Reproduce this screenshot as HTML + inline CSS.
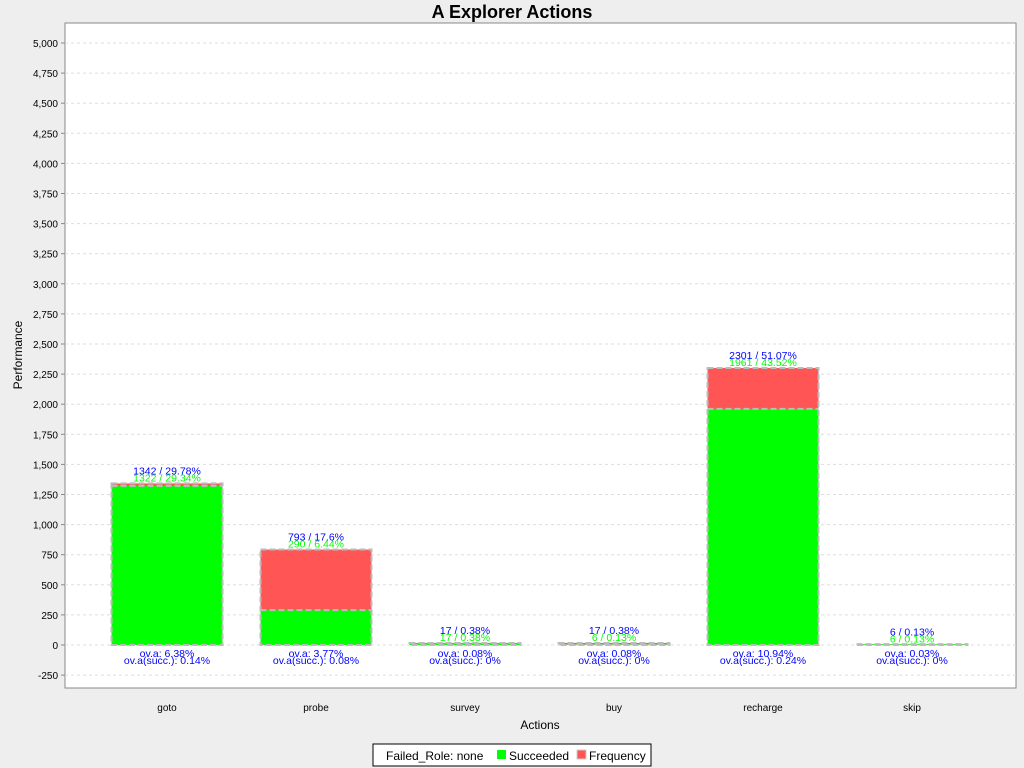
<!DOCTYPE html>
<html><head><meta charset="utf-8"><style>
body{margin:0;background:#eeeeee;font-family:"Liberation Sans",sans-serif;}
svg{display:block}
</style></head><body>
<svg id="c" width="1024" height="768" xmlns="http://www.w3.org/2000/svg">
<text x="512" y="18" text-anchor="middle" font-size="18" font-weight="bold" fill="#000">A Explorer Actions</text>
<rect x="65" y="23" width="951" height="665" fill="#fff" stroke="#888"/>
<g id="grid"></g><g id="bars"></g><g id="yaxis"></g><g id="xaxis"></g>
<text x="22" y="355" transform="rotate(-90 22 355)" text-anchor="middle" font-size="12">Performance</text>
<text x="540" y="729" text-anchor="middle" font-size="12">Actions</text>
<g>
<rect x="373" y="744" width="278" height="22" fill="#fff" stroke="#000"/>
<text x="386" y="760" font-size="12">Failed_Role: none</text>
<rect x="497" y="750" width="9" height="9" fill="#00ff00"/>
<text x="509" y="760" font-size="12">Succeeded</text>
<rect x="577" y="750" width="9" height="9" fill="#ff5555" stroke="#ccc"/>
<text x="589" y="760" font-size="12">Frequency</text>
</g>
</svg>
<script>
const categories=["goto","probe","survey","buy","recharge","skip"];
const totals=[1342,793,17,17,2301,6];
const totalPct=["29.78","17.6","0.38","0.38","51.07","0.13"];
const succeeded=[1322,290,17,6,1961,6];
const succPct=["29.34","6.44","0.38","0.13","43.52","0.13"];
const ova=["6.38","3.77","0.08","0.08","10.94","0.03"];
const ovaSucc=["0.14","0.08","0","0","0.24","0"];
const yTicks=[-250,0,250,500,750,1000,1250,1500,1750,2000,2250,2500,2750,3000,3250,3500,3750,4000,4250,4500,4750,5000];
const NS="http://www.w3.org/2000/svg";
function y(v){return 645-v*602/5000;}
function xc(i){return 167+149*i;}
const BW=111;
function mk(p,tag,attrs,txt){const e=document.createElementNS(NS,tag);for(const k in attrs)e.setAttribute(k,attrs[k]);if(txt!==undefined)e.textContent=txt;p.appendChild(e);return e;}
const grid=document.getElementById('grid'),bars=document.getElementById('bars'),ya=document.getElementById('yaxis'),xa=document.getElementById('xaxis');
yTicks.forEach(t=>{
 const l=mk(grid,'line',{x1:65,x2:1016,y1:y(t),y2:y(t),stroke:'#ddd','stroke-dasharray':'3,3'});
 
 
 mk(ya,'line',{x1:61,x2:65,y1:y(t),y2:y(t),stroke:'#888'});
 const tx=mk(ya,'text',{x:58,y:y(t)+4,'text-anchor':'end','font-size':10},t.toLocaleString('en-US'));
 
 
});
categories.forEach((c,i)=>{
 const x0=xc(i)-BW/2;
 const r=mk(bars,'rect',{x:x0,y:y(totals[i]),width:BW,height:y(0)-y(totals[i]),fill:'#ff5555'});
 
 
 const g=mk(bars,'rect',{x:x0,y:y(succeeded[i]),width:BW,height:y(0)-y(succeeded[i]),fill:'#00ff00'});
 
 
 mk(bars,'rect',{x:x0,y:y(totals[i]),width:BW,height:y(0)-y(totals[i]),fill:'none',stroke:'#bbb','stroke-width':2,'stroke-dasharray':'6,3'});
 mk(bars,'line',{x1:x0,x2:x0+BW,y1:y(succeeded[i]),y2:y(succeeded[i]),stroke:'#bbb','stroke-width':2,'stroke-dasharray':'6,3'});
 const t1=mk(bars,'text',{x:xc(i),y:y(totals[i])-9,'text-anchor':'middle','font-size':10.5,fill:'#0000ff'},totals[i]+' / '+totalPct[i]+'%');
 
 
 const t2=mk(bars,'text',{x:xc(i),y:y(totals[i])-2,'text-anchor':'middle','font-size':10.5,fill:'#00ff00'},succeeded[i]+' / '+succPct[i]+'%');
 
 
 const t3=mk(bars,'text',{x:xc(i),y:657,'text-anchor':'middle','font-size':10.5,fill:'#0000ff'},'ov.a: '+ova[i]+'%');
 
 
 const t4=mk(bars,'text',{x:xc(i),y:664,'text-anchor':'middle','font-size':10.5,fill:'#0000ff'},'ov.a(succ.): '+ovaSucc[i]+'%');
 
 
 const xl=mk(xa,'text',{x:xc(i),y:711,'text-anchor':'middle','font-size':10},c);
 
 
});
</script>
</body></html>
